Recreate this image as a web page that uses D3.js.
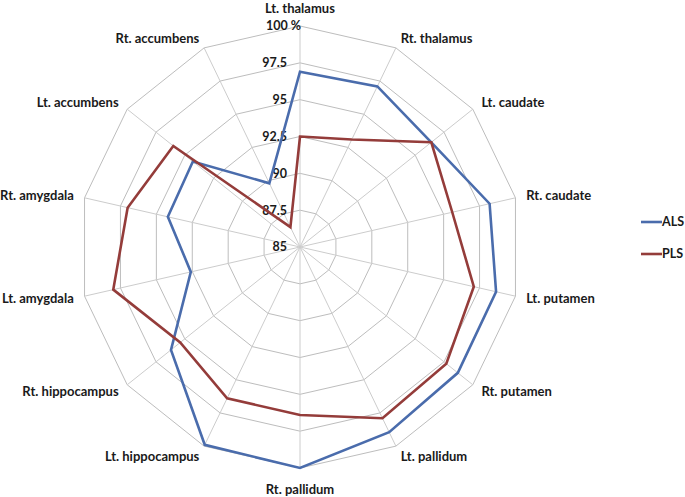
<!DOCTYPE html>
<html>
<head>
<meta charset="utf-8">
<script src="https://cdn.jsdelivr.net/npm/d3@7"></script>
<style>
  body { margin: 0; background: #fff; }
  text { font-family: Lato, "Open Sans", sans-serif; font-weight: bold; fill: #1a1a1a; }
</style>
</head>
<body>
<div id="chart"></div>
<script>
const regions = ["Lt. thalamus", "Rt. thalamus", "Lt. caudate", "Rt. caudate", "Lt. putamen", "Rt. putamen",
  "Lt. pallidum", "Rt. pallidum", "Lt. hippocampus", "Rt. hippocampus", "Lt. amygdala", "Rt. amygdala",
  "Lt. accumbens", "Rt. accumbens"];
const alsValues = [96.9, 97.1, 96.4, 98.2, 98.65, 98.7, 98.95, 100, 99.9, 96.2, 92.6, 94.2, 94.3, 89.8];
const plsValues = [92.5, 93.1, 96.4, 95.6, 97.1, 97.7, 97.9, 96.4, 96.4, 95.4, 98.0, 97.0, 96.0, 86.5];
const ticks = [85, 87.5, 90, 92.5, 95, 97.5, 100];
const tickLabels = ["85", "87.5", "90", "92.5", "95", "97.5", "100 %"];

const width = 685, height = 497;
const cx = 300, cy = 247, R = 221;

const svg = d3.select("#chart").append("svg")
  .attr("width", width)
  .attr("height", height);

const r = d3.scaleLinear().domain([85, 100]).range([0, R]);
const angle = d3.scaleLinear().domain([0, regions.length]).range([0, 2 * Math.PI]);

const pt = (i, v) => [cx + r(v) * Math.sin(angle(i)), cy - r(v) * Math.cos(angle(i))];

const g = svg.append("g");

// rings
ticks.slice(1).forEach(t => {
  g.append("polygon")
    .attr("points", regions.map((d, i) => pt(i, t).join(",")).join(" "))
    .attr("fill", "none")
    .attr("stroke", "#bdbdbd")
    .attr("stroke-width", 1);
});

// spokes
regions.forEach((d, i) => {
  const [x, y] = pt(i, 100);
  g.append("line")
    .attr("x1", cx).attr("y1", cy)
    .attr("x2", x).attr("y2", y)
    .attr("stroke", "#cccccc")
    .attr("stroke-width", 1);
});

// tick labels
ticks.forEach((t, i) => {
  g.append("text")
    .attr("x", t === 100 ? cx + 1 : cx - 13)
    .attr("y", cy - r(t))
    .attr("dy", "0.35em")
    .attr("text-anchor", "end")
    .style("font-size", "12.5px")
    .text(tickLabels[i]);
});

// category labels
regions.forEach((d, i) => {
  const a = angle(i);
  const s = Math.sin(a), c = Math.cos(a);
  let off = 11;
  if (Math.abs(s) < 0.01) off = c > 0 ? 18 : 21;
  const x = cx + (R + off) * s;
  const y = cy - (R + off) * c;
  g.append("text")
    .attr("x", x)
    .attr("y", y)
    .attr("dy", "0.35em")
    .attr("text-anchor", Math.abs(s) < 0.01 ? "middle" : (s > 0 ? "start" : "end"))
    .style("font-size", "13px")
    .text(d);
});

const series = [
  { name: "ALS", values: alsValues, color: "#4A6CAC" },
  { name: "PLS", values: plsValues, color: "#943C3A" }
];

const line = d3.line().curve(d3.curveLinearClosed);

series.forEach(sr => {
  g.append("path")
    .attr("d", line(sr.values.map((v, i) => pt(i, v))))
    .attr("fill", "none")
    .attr("stroke", sr.color)
    .attr("stroke-width", 2.6)
    .attr("stroke-linejoin", "miter");
});

// legend
const legend = svg.append("g").attr("transform", "translate(641,222)");
series.forEach((sr, i) => {
  const row = legend.append("g").attr("transform", `translate(0,${i * 32})`);
  row.append("line")
    .attr("x1", 0).attr("x2", 21)
    .attr("stroke", sr.color)
    .attr("stroke-width", 2.6);
  row.append("text")
    .attr("x", 21)
    .attr("dy", "0.35em")
    .style("font-size", "12.5px")
    .text(sr.name);
});
</script>
</body>
</html>
